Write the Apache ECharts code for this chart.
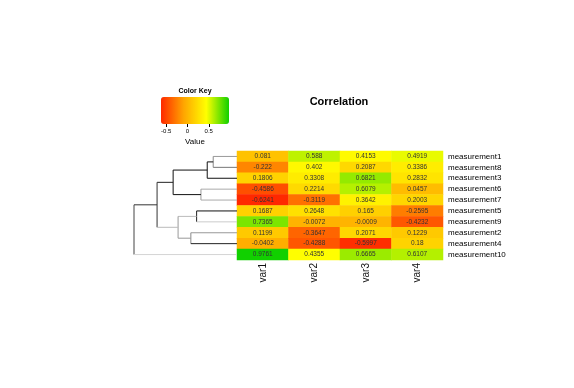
<!DOCTYPE html>
<html><head><meta charset="utf-8">
<script src="https://cdn.jsdelivr.net/npm/echarts@6/dist/echarts.min.js"></script>
<style>html,body{margin:0;padding:0;background:#fff}#c{width:574px;height:388px}</style>
</head><body><div id="c"></div>
<script>
// ---- data ----
const columns = ['var1', 'var2', 'var3', 'var4'];
const rows = ['measurement1', 'measurement8', 'measurement3', 'measurement6', 'measurement7',
              'measurement5', 'measurement9', 'measurement2', 'measurement4', 'measurement10'];
const var1 = [0.081, -0.222, 0.1806, -0.4586, -0.6241, 0.1687, 0.7365, 0.1199, -0.0402, 0.9761];
const var2 = [0.588, 0.402, 0.3308, 0.2214, -0.3119, 0.2648, -0.0072, -0.3647, -0.4288, 0.4355];
const var3 = [0.4153, 0.2087, 0.6821, 0.6079, 0.3642, 0.165, -0.0009, 0.2071, -0.5997, 0.6665];
const var4 = [0.4919, 0.3386, 0.2832, 0.0457, 0.2003, -0.2595, -0.4232, 0.1229, 0.18, 0.6107];
const keyTicks = [-0.5, 0, 0.5];
// row dendrogram (R hclust style: negative = leaf -(row+1), positive = earlier merge number)
const mergeLeft   = [-1, 1, -4, -6, -8, 4, 2, 7, 8];
const mergeRight  = [-2, -3, -5, -7, -9, 5, 3, 6, -10];
const mergeHeight = [0.231, 0.289, 0.350, 0.392, 0.448, 0.572, 0.620, 0.776, 1.0];

// ---- styles (not data) ----
const segColors = [
  ['#999', '#888', '#777'], ['#111', '#111', '#111'], ['#aaa', '#999', '#aaa'],
  ['#111', '#222', '#ccc'], ['#999', '#888', '#222'], ['#bbb', '#999', '#999'],
  ['#111', '#111', '#111'], ['#222', '#333', '#bbb'], ['#333', '#444', '#d4d4d4']
];

const cols = [var1, var2, var3, var4];
const heatData = [];
cols.forEach((arr, c) => arr.forEach((v, r) => heatData.push([c, r, v])));
const all = [].concat(var1, var2, var3, var4);
const vMin = Math.min(...all), vMax = Math.max(...all);

// dendrogram segments
const nodeY = [], nodeH = [];
function yOf(i) { return i < 0 ? (-i - 1) : nodeY[i - 1]; }
function hOf(i) { return i < 0 ? 0 : nodeH[i - 1]; }
const segs = [];
for (let k = 0; k < mergeHeight.length; k++) {
  const a = mergeLeft[k], b = mergeRight[k], h = mergeHeight[k];
  const ya = yOf(a), yb = yOf(b);
  nodeY.push((ya + yb) / 2); nodeH.push(h);
  segs.push([hOf(a), ya, h, ya, k, 0]);
  segs.push([h, ya, h, yb, k, 1]);
  segs.push([h, yb, hOf(b), yb, k, 2]);
}

const font = 'Liberation Sans, Arial, sans-serif';
const chart = echarts.init(document.getElementById('c'));
chart.setOption({
  animation: false,
  textStyle: { fontFamily: font },
  title: [
    { text: 'Correlation', left: 339, top: 96, textAlign: 'center', padding: 0,
      textStyle: { fontSize: 11, fontWeight: 'bold', color: '#000', fontFamily: font } },
    { text: 'Color Key', left: 195, top: 88, textAlign: 'center', padding: 0,
      textStyle: { fontSize: 7, fontWeight: 'bold', color: '#000', fontFamily: font } }
  ],
  grid: [
    { left: 237, top: 151, width: 206, height: 109 },
    { left: 134, top: 151, width: 103, height: 109 },
    { left: 161, top: 97, width: 68, height: 27 }
  ],
  xAxis: [
    { type: 'category', gridIndex: 0, data: columns, position: 'bottom',
      axisLine: { show: false }, axisTick: { show: false },
      axisLabel: { rotate: 90, fontSize: 10, color: '#111', margin: 3 } },
    { type: 'value', gridIndex: 1, min: 0, max: 1, inverse: true, show: false },
    { type: 'value', gridIndex: 2, min: vMin, max: vMax, position: 'bottom', offset: 3,
      axisLine: { show: false }, splitLine: { show: false },
      axisTick: { show: true, customValues: keyTicks, length: 3, lineStyle: { color: '#000', width: 1 } },
      axisLabel: { customValues: keyTicks, fontSize: 6, margin: 1, color: '#000', formatter: v => String(v) },
      name: 'Value', nameLocation: 'middle', nameGap: 11, nameTextStyle: { fontSize: 8, color: '#000' } }
  ],
  yAxis: [
    { type: 'category', gridIndex: 0, data: rows, inverse: true, position: 'right',
      axisLine: { show: false }, axisTick: { show: false },
      axisLabel: { fontSize: 8, color: '#000', margin: 5 } },
    { type: 'value', gridIndex: 1, min: -0.5, max: rows.length - 0.5, inverse: true, show: false },
    { type: 'value', gridIndex: 2, show: false }
  ],
  visualMap: {
    type: 'continuous', min: vMin, max: vMax, dimension: 2, seriesIndex: 0,
    orient: 'horizontal', left: 161, top: 97, itemWidth: 27, itemHeight: 68, padding: 0,
    calculable: false, hoverLink: false,
    inRange: { color: ['#FF2800', '#FFA500', '#FFFF00', '#11D000'] }
  },
  series: [
    { type: 'heatmap', xAxisIndex: 0, yAxisIndex: 0, data: heatData,
      label: { show: true, fontSize: 6.5, color: '#333', formatter: p => String(p.value[2]) },
      itemStyle: { borderWidth: 0 } },
    { type: 'custom', xAxisIndex: 1, yAxisIndex: 1, data: segs, silent: true,
      renderItem: (params, api) => {
        const p1 = api.coord([api.value(0), api.value(1)]);
        const p2 = api.coord([api.value(2), api.value(3)]);
        const col = segColors[api.value(4)][api.value(5)];
        return { type: 'line', shape: { x1: p1[0], y1: p1[1], x2: p2[0], y2: p2[1] },
                 style: { stroke: col, lineWidth: 1 } };
      } },
    { type: 'scatter', xAxisIndex: 2, yAxisIndex: 2, data: [] }
  ]
});
</script></body></html>
